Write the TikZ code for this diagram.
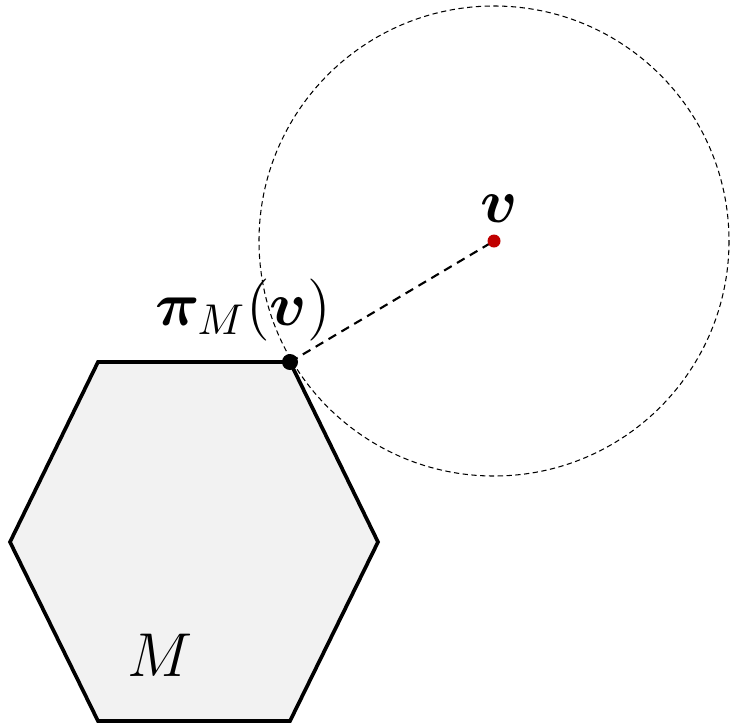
\documentclass[tikz,border=0pt]{standalone}
\usepackage{amsmath,bm}
\usetikzlibrary{calc,positioning}

\definecolor{setgray}{HTML}{F2F2F2}
\definecolor{pointred}{HTML}{C00000}

\begin{document}
\begin{tikzpicture}[x=0.02cm, y=-0.02cm,
                    lbl/.style={font=\Large, scale=2.45, inner sep=0pt}]

\useasboundingbox (0,0) rectangle (730,724);

% the set M
\draw[line width=2.1pt, fill=setgray, line join=miter]
  (98,362) -- (290,362) -- (378,542) -- (290,721) -- (98,721) -- (10,542) -- cycle;
\node[lbl] (Mlabel) at (160,655) {$M$};

% ball around v
\coordinate (v) at (494,241);
\coordinate (proj) at (290,362);
\draw[dashed, line width=0.6pt, dash pattern=on 3pt off 2pt] (v) circle (235);

\draw[dashed, line width=1.2pt, dash pattern=on 5pt off 3.5pt] (proj) -- (v);

\fill[pointred] (v) circle (6.5);
\fill[black] (proj) circle (8);

\node[lbl] (vlabel) at (499,209) {$\bm{v}$};
\node[lbl] (projlabel) at (243,310) {$\bm{\pi}_M(\bm{v})$};
\end{tikzpicture}
\end{document}
